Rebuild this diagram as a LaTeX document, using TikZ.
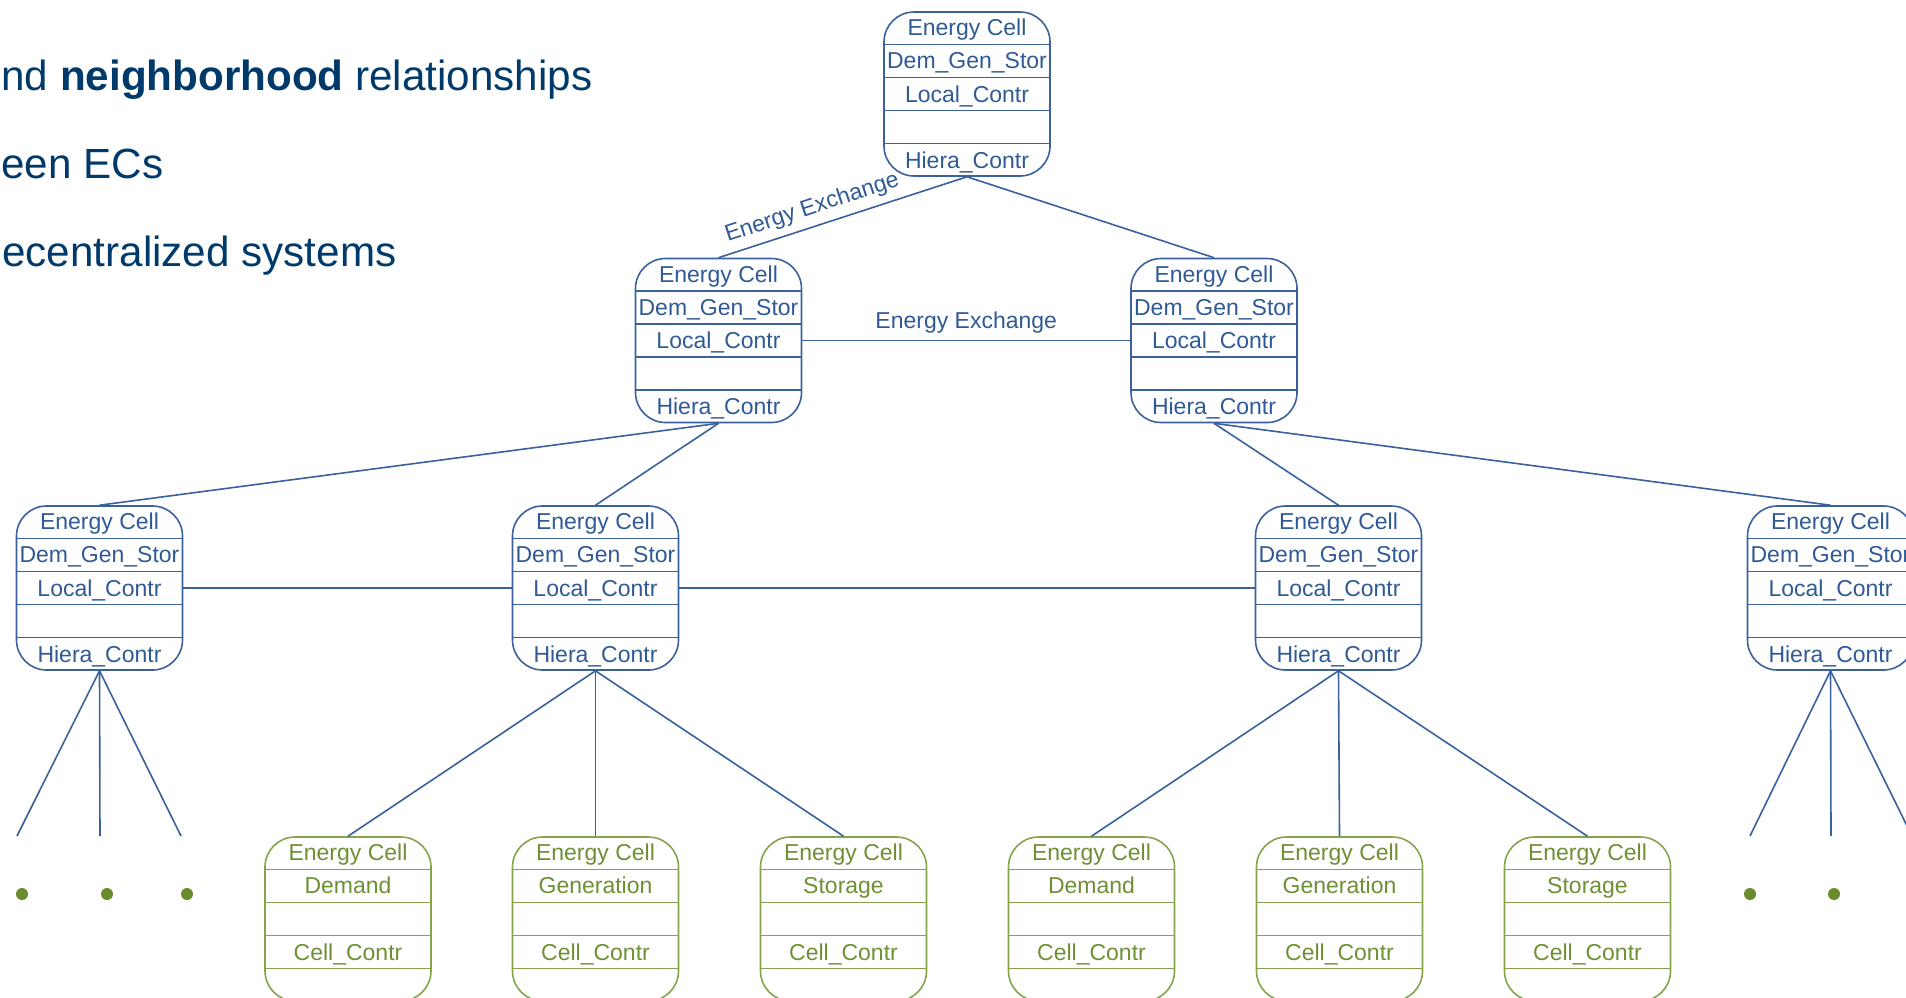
\documentclass[tikz,border=0pt]{standalone}
\usepackage{fontspec}
\setmainfont{Liberation Sans}
\usetikzlibrary{calc}

\definecolor{ecblue}{HTML}{3A619E}
\definecolor{ectext}{HTML}{2F5A96}
\definecolor{ecgreen}{HTML}{86A34C}
\definecolor{ecgtext}{HTML}{6F8F33}
\definecolor{dotgreen}{HTML}{6A8C2A}
\definecolor{navy}{HTML}{003A6B}

\tikzset{
  cellbox/.style={draw=#1, line width=0.8pt, rounded corners=15pt,
    minimum width=83pt, minimum height=82pt, inner sep=0pt},
  rowline/.style={draw=#1, line width=0.8pt},
  rowtext/.style={text=#1, font=\fontsize{11.5}{13}\selectfont,
    anchor=base, inner sep=0pt, yshift=-4pt},
  link/.style={draw=ecblue, line width=0.8pt},
  edgelabel/.style={text=ectext, font=\fontsize{11.5}{13}\selectfont},
  headline/.style={text=navy, font=\fontsize{21.1}{25}\selectfont,
    anchor=base west, inner sep=0pt},
  leafdot/.style={circle, fill=dotgreen, minimum size=6pt, inner sep=0pt},
}

% horizontal separators between the five rows of a cell
\newcommand{\celldividers}[2]{%
  \foreach \k in {1,2,3,4}{%
    \draw[rowline=#2] ($(#1.north west)!\k/5!(#1.south west)$) --
                      ($(#1.north east)!\k/5!(#1.south east)$);}}

% aggregated energy cell (blue)
\newcommand{\bluecell}[3]{%
  \node[cellbox=ecblue] (#1) at (#2,#3) {};
  \celldividers{#1}{ecblue}
  \node[rowtext=ectext] (#1-a) at ($(#1.north)!0.1!(#1.south)$) {Energy Cell};
  \node[rowtext=ectext] (#1-b) at ($(#1.north)!0.3!(#1.south)$) {Dem\_Gen\_Stor};
  \node[rowtext=ectext] (#1-c) at ($(#1.north)!0.5!(#1.south)$) {Local\_Contr};
  \node[rowtext=ectext] (#1-e) at ($(#1.north)!0.9!(#1.south)$) {Hiera\_Contr};}

% elementary energy cell (green)
\newcommand{\greencell}[4]{%
  \node[cellbox=ecgreen] (#1) at (#2,#3) {};
  \celldividers{#1}{ecgreen}
  \node[rowtext=ecgtext] (#1-a) at ($(#1.north)!0.1!(#1.south)$) {Energy Cell};
  \node[rowtext=ecgtext] (#1-b) at ($(#1.north)!0.3!(#1.south)$) {#4};
  \node[rowtext=ecgtext] (#1-d) at ($(#1.north)!0.7!(#1.south)$) {Cell\_Contr};}

\begin{document}
\begin{tikzpicture}[x=0.5pt, y=-0.5pt]
\useasboundingbox (0,0) rectangle (1906,997);
\clip (0,0) rectangle (1906,997);

% bullet text
\node[headline] (h1) at (1,90) {nd \textbf{neighborhood} relationships};
\node[headline] (h2) at (1,178) {een ECs};
\node[headline] (h3) at (2,266) {ecentralized systems};

% cells
\bluecell{top}{967}{94}
\bluecell{l2l}{718.5}{340.5}
\bluecell{l2r}{1214}{340.5}
\bluecell{ca}{99.5}{588}
\bluecell{cb}{595.5}{588}
\bluecell{cc}{1338.5}{588}
\bluecell{cd}{1830.5}{588}

\greencell{g1}{348}{919}{Demand}
\greencell{g2}{595.5}{919}{Generation}
\greencell{g3}{843.5}{919}{Storage}
\greencell{g4}{1091.5}{919}{Demand}
\greencell{g5}{1339.5}{919}{Generation}
\greencell{g6}{1587.5}{919}{Storage}

% hierarchy links
\draw[link] (l2l.north) -- node[pos=0.40, sloped, above, edgelabel] {Energy Exchange} (top.south);
\draw[link] (top.south) -- (l2r.north);
\draw[link] (l2l.south) -- (ca.north);
\draw[link] (l2l.south) -- (cb.north);
\draw[link] (l2r.south) -- (cc.north);
\draw[link] (l2r.south) -- (cd.north);
\foreach \g in {g1,g2,g3}{\draw[link] (cb.south) -- (\g.north);}
\foreach \g in {g4,g5,g6}{\draw[link] (cc.south) -- (\g.north);}

% neighbourhood links
\draw[link] (l2l.east) -- node[above, edgelabel] {Energy Exchange} (l2r.west);
\draw[link] (ca.east) -- (cb.west);
\draw[link] (cb.east) -- (cc.west);

% open branches below the outer cells
\coordinate (la1) at (17,836);
\coordinate (la2) at (100,836);
\coordinate (la3) at (181,836);
\coordinate (ld1) at (1750,836);
\coordinate (ld2) at (1831,836);
\coordinate (ld3) at (1912,836);
\foreach \p in {la1,la2,la3}{\draw[link] (ca.south) -- (\p);}
\foreach \p in {ld1,ld2,ld3}{\draw[link] (cd.south) -- (\p);}

\node[leafdot] (da1) at (22,894) {};
\node[leafdot] (da2) at (107,894) {};
\node[leafdot] (da3) at (187,894) {};
\node[leafdot] (dd1) at (1750,894) {};
\node[leafdot] (dd2) at (1834,894) {};
\end{tikzpicture}
\end{document}
